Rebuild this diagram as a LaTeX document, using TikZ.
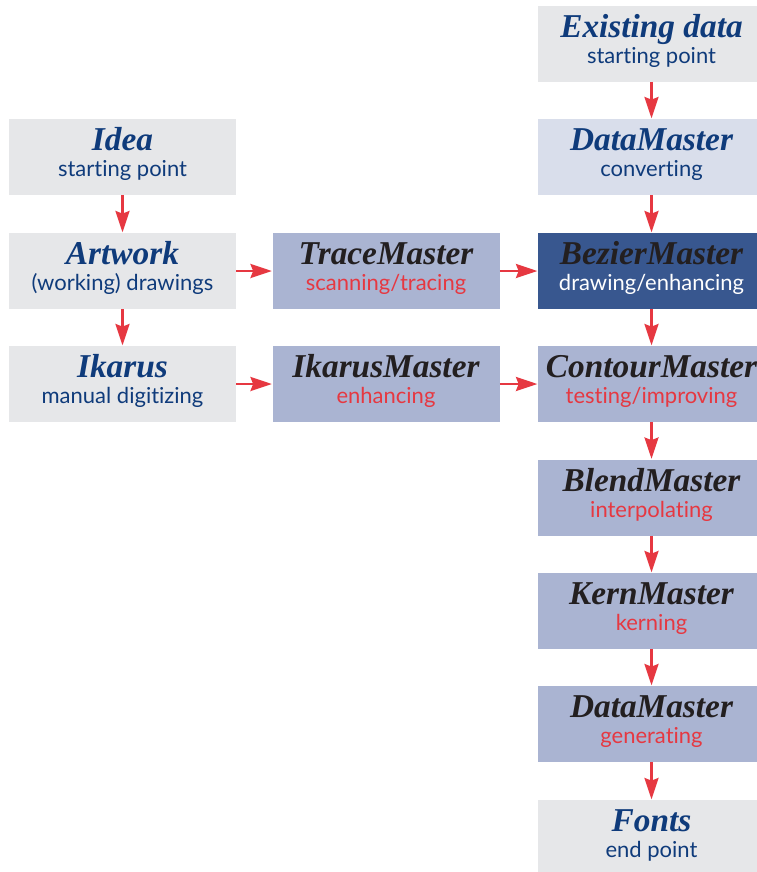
\documentclass[tikz,border=0pt]{standalone}
\usepackage{fontspec}
\setmainfont{Liberation Serif}
\newfontfamily\subfont{Lato}[Ligatures=NoCommon]
\usetikzlibrary{arrows.meta}
\definecolor{boxgray}{HTML}{E6E7E9}
\definecolor{boxlight}{HTML}{D9DEEB}
\definecolor{boxmid}{HTML}{AAB4D2}
\definecolor{boxdark}{HTML}{38578F}
\definecolor{navy}{HTML}{0F3B7B}
\definecolor{redtxt}{HTML}{E63841}
\definecolor{blk}{HTML}{231F20}
\newcommand{\bx}[4]{{\fontsize{25}{19.5}\selectfont\bfseries\itshape\color{#3}#1}\\{\fontsize{16.5}{19.5}\selectfont\subfont\color{#4}#2}}
\tikzset{
  stepbox/.style={fill=#1, minimum width=170.25pt, minimum height=57pt, inner sep=0pt, align=center, text depth=7pt, font=\fontsize{16}{19.5}\selectfont},
  arr/.style={draw=redtxt, line width=2pt, -{Stealth[length=16pt, width=10.5pt, inset=2pt]}, shorten >=0.3pt}
}
\begin{document}
\begin{tikzpicture}[x=0.75pt, y=-0.75pt]
\clip (0,0) rectangle (757,872);
\fill[white] (0,0) rectangle (757,872);
% left column
\node[stepbox=boxgray] (idea) at (122.5,157) {\bx{Idea}{starting point}{navy}{navy}};
\node[stepbox=boxgray] (art) at (122.5,271) {\bx{Artwork}{(working) drawings}{navy}{navy}};
\node[stepbox=boxgray] (ika) at (122.5,384) {\bx{Ikarus}{manual digitizing}{navy}{navy}};
% middle column
\node[stepbox=boxmid] (trace) at (386,271) {\bx{TraceMaster}{scanning/tracing}{blk}{redtxt}};
\node[stepbox=boxmid] (ikm) at (386,384) {\bx{IkarusMaster}{enhancing}{blk}{redtxt}};
% right column
\node[stepbox=boxgray] (exist) at (651.5,43.5) {\bx{Existing data}{starting point}{navy}{navy}};
\node[stepbox=boxlight] (dm1) at (651.5,157) {\bx{DataMaster}{converting}{navy}{navy}};
\node[stepbox=boxdark] (bez) at (651.5,271) {\bx{BezierMaster}{drawing/enhancing}{blk}{white}};
\node[stepbox=boxmid] (cont) at (651.5,384) {\bx{ContourMaster}{testing/improving}{blk}{redtxt}};
\node[stepbox=boxmid] (blend) at (651.5,497.5) {\bx{BlendMaster}{interpolating}{blk}{redtxt}};
\node[stepbox=boxmid] (kern) at (651.5,611) {\bx{KernMaster}{kerning}{blk}{redtxt}};
\node[stepbox=boxmid] (dm2) at (651.5,724) {\bx{DataMaster}{generating}{blk}{redtxt}};
\node[stepbox=boxgray] (fonts) at (651.5,838) {\bx{Fonts}{end point}{navy}{navy}};
% arrows
\draw[arr] (idea) -- (art);
\draw[arr] (art) -- (ika);
\draw[arr] (art) -- (trace);
\draw[arr] (trace) -- (bez);
\draw[arr] (ika) -- (ikm);
\draw[arr] (ikm) -- (cont);
\draw[arr] (exist) -- (dm1);
\draw[arr] (dm1) -- (bez);
\draw[arr] (bez) -- (cont);
\draw[arr] (cont) -- (blend);
\draw[arr] (blend) -- (kern);
\draw[arr] (kern) -- (dm2);
\draw[arr] (dm2) -- (fonts);
\end{tikzpicture}
\end{document}
